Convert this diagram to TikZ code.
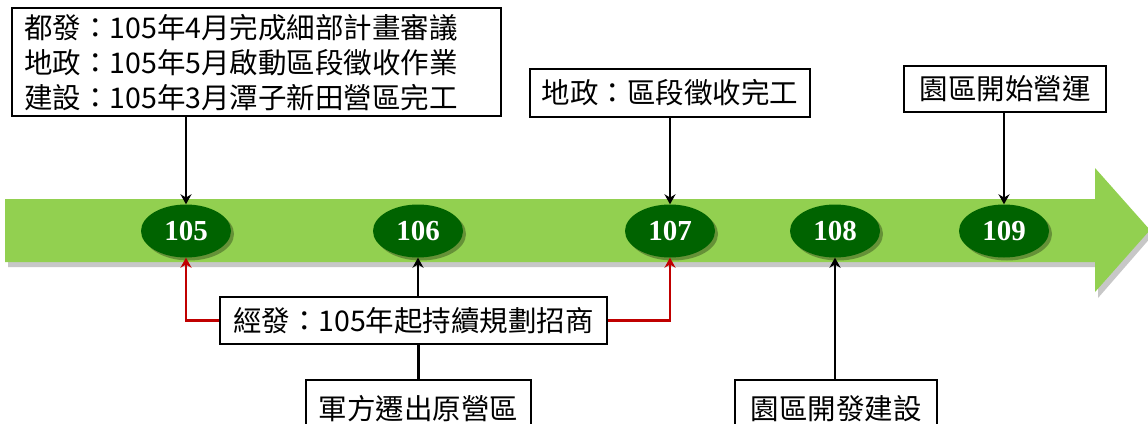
\documentclass[tikz,border=0pt]{standalone}
\usepackage{fontspec}
\setmainfont{Noto Sans CJK TC}
\newfontfamily\numfont{Liberation Serif}
\usetikzlibrary{shapes.geometric,arrows.meta,shadows}
\definecolor{bandgreen}{HTML}{92D050}
\definecolor{dotgreen}{HTML}{006300}
\definecolor{linkred}{HTML}{C00000}
\tikzset{
  label box/.style={draw=black, line width=2.4pt, fill=white, inner sep=0pt, font=\fontsize{28.5}{35}\selectfont},
  year dot/.style={ellipse, fill=dotgreen, minimum width=90pt, minimum height=53pt, inner sep=0pt,
    text=white, font=\fontsize{29}{29}\numfont\bfseries,
    drop shadow={shadow xshift=3pt, shadow yshift=-3pt, opacity=0.3, fill=black}},
  arr/.style={line width=2.4pt, -{Stealth[length=10pt,width=11pt]}},
  redarr/.style={arr, draw=linkred, -{Stealth[length=10pt,width=11pt,fill=linkred]}},
  plain/.style={line width=2.4pt}
}
\begin{document}
\begin{tikzpicture}[x=1pt,y=-1pt]
\clip (0,0) rectangle (1148,423);
\fill[white] (0,0) rectangle (1148,423);
% shadow of the band
\fill[black!22] (8,204) -- (1098,204) -- (1098,174) -- (1152,236) -- (1098,298) -- (1098,267) -- (8,267) -- cycle;
% timeline band
\fill[bandgreen] (5,199) -- (1095,199) -- (1095,168) -- (1150,230) -- (1095,292) -- (1095,262) -- (5,262) -- cycle;

% year dots
\node[year dot] (e105) at (186,231) {105};
\node[year dot] (e106) at (418,231) {106};
\node[year dot] (e107) at (670,231) {107};
\node[year dot] (e108) at (835,231) {108};
\node[year dot] (e109) at (1004,231) {109};

% top boxes
\node[label box, anchor=north west, minimum width=489pt, minimum height=108pt,
      text width=465pt, inner xsep=12pt, align=left] (b1) at (11,7)
  {都發：105年4月完成細部計畫審議\\地政：105年5月啟動區段徵收作業\\建設：105年3月潭子新田營區完工};
\node[label box, minimum width=280pt, minimum height=48pt] (b2) at (670,93) {地政：區段徵收完工};
\node[label box, minimum width=202pt, minimum height=46pt] (b3) at (1005,89) {園區開始營運};

% bottom boxes
\node[label box, minimum width=387pt, minimum height=47pt] (jf) at (413.5,320.5) {經發：105年起持續規劃招商};
\node[label box, minimum width=225pt, minimum height=60pt, anchor=north] (jm) at (418.5,379) {\raisebox{6pt}{軍方遷出原營區}};
\node[label box, minimum width=202pt, minimum height=60pt, anchor=north] (yq) at (836,379) {\raisebox{6pt}{園區開發建設}};

% connectors
\draw[arr] (b1.south -| e105) -- (e105.north);
\draw[arr] (b2.south) -- (e107.north);
\draw[arr] (b3.south -| e109) -- (e109.north);
\draw[arr] (jf.north -| e106) -- (e106.south);
\draw[plain] (jf.south -| jm) -- (jm.north);
\draw[arr] (yq.north -| e108) -- (e108.south);
\draw[redarr] (jf.west) -| (e105.south);
\draw[redarr] (jf.east) -| (e107.south);
\end{tikzpicture}
\end{document}
